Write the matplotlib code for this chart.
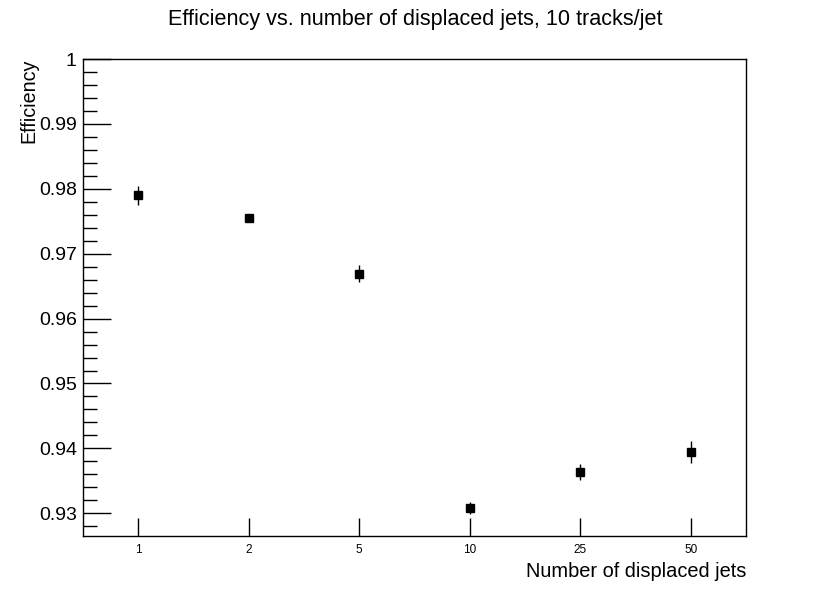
import matplotlib
matplotlib.use("Agg")
import matplotlib.pyplot as plt
from matplotlib.ticker import MultipleLocator

plt.rcParams['font.family'] = ['Liberation Sans', 'DejaVu Sans']

# data
n_jets = ['1', '2', '5', '10', '25', '50']
efficiency = [0.97897, 0.97543, 0.96692, 0.93086, 0.93635, 0.93938]
eff_err = [0.0014, 0.0004, 0.0013, 0.0009, 0.0012, 0.0017]

fig = plt.figure(figsize=(8.3, 5.96), dpi=100)
ax = fig.add_axes([0.1, 0.1007, 0.7988, 0.8003])

x = [i + 0.5 for i in range(len(n_jets))]
ax.errorbar(x, efficiency, yerr=eff_err, fmt='s', color='black',
            markersize=6.3, elinewidth=1.0, capsize=0)

ax.set_xlim(0, len(n_jets))
ax.set_ylim(0.9265, 1.0)

ax.set_xticks(x)
ax.set_xticklabels(n_jets, fontsize=8.5)
ax.tick_params(axis='x', direction='in', length=13, width=1, pad=6)

ax.yaxis.set_major_locator(MultipleLocator(0.01))
ax.yaxis.set_minor_locator(MultipleLocator(0.002))
ax.set_yticks([0.93, 0.94, 0.95, 0.96, 0.97, 0.98, 0.99, 1.0])
ax.set_yticklabels(['0.93', '0.94', '0.95', '0.96', '0.97', '0.98', '0.99', '1'])
ax.tick_params(axis='y', which='major', direction='in', length=20, width=1,
               labelsize=14, pad=4.5)
ax.tick_params(axis='y', which='minor', direction='in', length=10, width=1)

for s in ax.spines.values():
    s.set_linewidth(1.0)

ax.set_xlabel('Number of displaced jets', fontsize=14.4, loc='right', labelpad=4)
ax.set_ylabel('Efficiency', fontsize=14.2, loc='top', labelpad=0)

fig.suptitle('Efficiency vs. number of displaced jets, 10 tracks/jet',
             fontsize=15.6, x=0.5, y=0.985)

fig.savefig('out.png', dpi=100)
